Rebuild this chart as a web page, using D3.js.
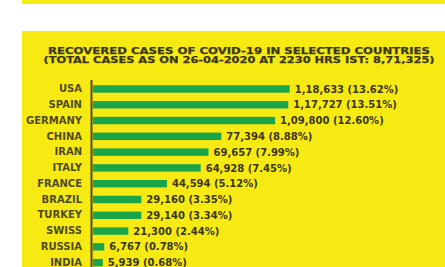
<!DOCTYPE html>
<html>
<head>
<meta charset="utf-8">
<script src="https://cdn.jsdelivr.net/npm/d3@7"></script>
<style>
  html, body { margin: 0; padding: 0; background: #fff; }
  svg { display: block; }
  text { font-family: "DejaVu Sans", Verdana, sans-serif; font-weight: bold; }
</style>
</head>
<body>
<svg id="chart" width="445" height="267"></svg>
<script>
// data
var countries = ["USA", "SPAIN", "GERMANY", "CHINA", "IRAN", "ITALY",
                 "FRANCE", "BRAZIL", "TURKEY", "SWISS", "RUSSIA", "INDIA"];
var recovered = [118633, 117727, 109800, 77394, 69657, 64928,
                 44594, 29160, 29140, 21300, 6767, 5939];
var shares = [13.62, 13.51, 12.60, 8.88, 7.99, 7.45,
              5.12, 3.35, 3.34, 2.44, 0.78, 0.68];
var titleLines = [
    "RECOVERED CASES OF COVID-19 IN SELECTED COUNTRIES",
    "(TOTAL CASES AS ON 26-04-2020 AT 2230 HRS IST: 8,71,325)"
];

// styles
var YELLOW = "#f6ea12";
var GREEN = "#1ba54b";
var DARK = "#3b3716";
var LABEL = "#4f4a22";

var svg = d3.select("#chart");

// yellow strip at the very top and the main panel
svg.append("rect").attr("x", 22).attr("y", 0).attr("width", 423).attr("height", 4).attr("fill", YELLOW);
svg.append("rect").attr("x", 22).attr("y", 31).attr("width", 423).attr("height", 236).attr("fill", YELLOW);

// title, two lines
var titleX = 239;
svg.selectAll(".title")
    .data(titleLines)
    .enter()
    .append("text")
    .attr("class", "title")
    .attr("x", titleX)
    .attr("y", function(d, i) { return 53.8 + i * 8.8; })
    .attr("text-anchor", "middle")
    .attr("font-size", 9)
    .attr("textLength", function(d, i) { return i == 0 ? 382 : 391; })
    .attr("lengthAdjust", "spacingAndGlyphs")
    .attr("fill", DARK)
    .attr("stroke", DARK)
    .attr("stroke-width", 0.25)
    .text(function(d) { return d; });

var x = d3.scaleLinear().domain([0, 120000]).range([93, 292]);
var y = d3.scaleBand().domain(countries).range([81, 81 + 15.8 * countries.length]).paddingInner(0.53).paddingOuter(0.27);

// indian style grouping: 1,18,633
function indian(n) {
    var s = String(n);
    if (s.length <= 3) return s;
    var last = s.slice(-3), rest = s.slice(0, -3);
    rest = rest.replace(/\B(?=(\d{2})+(?!\d))/g, ",");
    return rest + "," + last;
}

var rows = countries.map(function(c, i) {
    return { name: c, value: recovered[i], share: shares[i] };
});

svg.selectAll(".bar")
    .data(rows)
    .enter()
    .append("rect")
    .attr("class", "bar")
    .attr("x", x(0))
    .attr("y", function(d) { return y(d.name); })
    .attr("width", function(d) { return x(d.value) - x(0); })
    .attr("height", y.bandwidth())
    .attr("fill", GREEN);

svg.selectAll(".val")
    .data(rows)
    .enter()
    .append("text")
    .attr("class", "val")
    .attr("x", function(d) { return x(d.value) + 5; })
    .attr("y", function(d) { return y(d.name) + y.bandwidth() / 2; })
    .attr("dy", "0.36em")
    .attr("font-size", 10)
    .attr("fill", DARK)
    .text(function(d) { return indian(d.value) + " (" + d.share.toFixed(2) + "%)"; });

// category axis
var axis = svg.append("g")
    .attr("transform", "translate(" + 91.5 + ",0)")
    .call(d3.axisLeft(y).tickSize(0).tickPadding(9.5).tickSizeOuter(0));
axis.select(".domain").attr("stroke", "#4a4628").attr("stroke-width", 2)
    .attr("d", "M0,80V267");
axis.selectAll("text")
    .attr("font-family", "DejaVu Sans, sans-serif")
    .attr("font-weight", "bold")
    .attr("font-size", 10)
    .attr("fill", LABEL);
</script>
</body>
</html>
